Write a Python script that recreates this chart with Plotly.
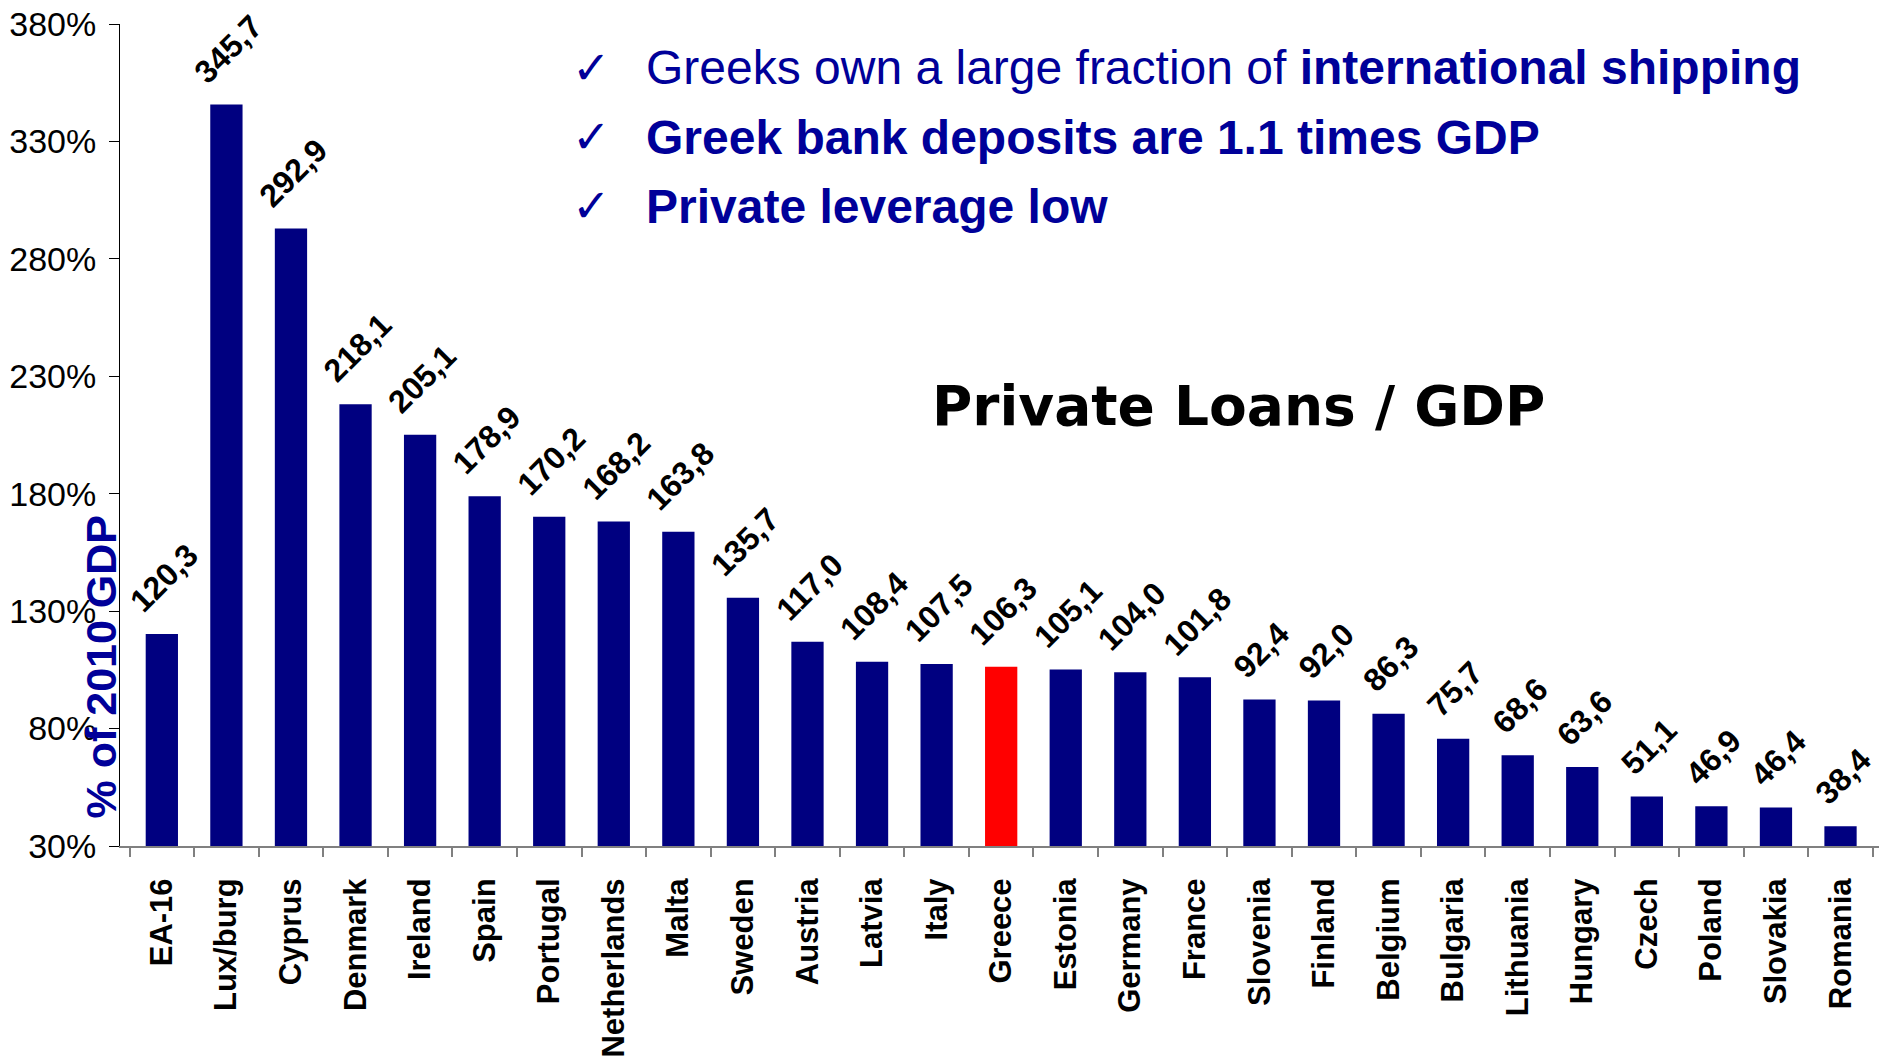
import plotly.graph_objects as go

countries = ["EA-16", "Lux/burg", "Cyprus", "Denmark", "Ireland", "Spain", "Portugal",
             "Netherlands", "Malta", "Sweden", "Austria", "Latvia", "Italy", "Greece",
             "Estonia", "Germany", "France", "Slovenia", "Finland", "Belgium", "Bulgaria",
             "Lithuania", "Hungary", "Czech", "Poland", "Slovakia", "Romania"]
loans_gdp = [120.3, 345.7, 292.9, 218.1, 205.1, 178.9, 170.2, 168.2, 163.8, 135.7, 117.0,
             108.4, 107.5, 106.3, 105.1, 104.0, 101.8, 92.4, 92.0, 86.3, 75.7, 68.6, 63.6,
             51.1, 46.9, 46.4, 38.4]
highlight = "Greece"
y_ticks = [30, 80, 130, 180, 230, 280, 330, 380]
y_tick_labels = ["30%", "80%", "130%", "180%", "230%", "280%", "330%", "380%"]
bullets = [
    "Greeks own a large fraction of <b>international shipping</b>",
    "<b>Greek bank deposits are 1.1 times GDP</b>",
    "<b>Private leverage low</b>",
]
chart_title = "Private Loans / GDP"
y_title = "% of 2010 GDP"

NAVY = "#000080"
TEXT_BLUE = "#000099"
colors = ["#FF0000" if c == highlight else NAVY for c in countries]

fig = go.Figure()
fig.add_trace(go.Bar(x=countries, y=loans_gdp, marker=dict(color=colors, line=dict(width=0)),
                     hoverinfo="x+y"))

annotations = []
for c, v in zip(countries, loans_gdp):
    annotations.append(dict(
        x=c, y=v, xref="x", yref="y", text=f"{v:.1f}".replace(".", ","),
        showarrow=False, textangle=-45, xanchor="center", yanchor="bottom",
        yshift=12, xshift=2,
        font=dict(family="Liberation Sans, Arial", size=32, color="black", weight="bold"),
    ))

bullet_y = [0.947, 0.862, 0.778]
for txt, yy in zip(bullets, bullet_y):
    annotations.append(dict(
        x=0.268, y=yy, xref="paper", yref="paper", text="\u2713", showarrow=False,
        xanchor="center", yanchor="middle",
        font=dict(family="DejaVu Sans", size=46, color=TEXT_BLUE),
    ))
    annotations.append(dict(
        x=0.298, y=yy, xref="paper", yref="paper", text=txt, showarrow=False,
        xanchor="left", yanchor="middle",
        font=dict(family="Liberation Sans, Arial", size=48, color=TEXT_BLUE),
    ))

annotations.append(dict(
    x=0.6355, y=0.5356, xref="paper", yref="paper", text=chart_title, showarrow=False,
    xanchor="center", yanchor="middle",
    font=dict(family="DejaVu Sans", size=55, color="black", weight="bold"),
))
annotations.append(dict(
    x=-0.011, y=0.218, xref="paper", yref="paper", text=y_title, showarrow=False,
    xanchor="center", yanchor="middle", textangle=-90,
    font=dict(family="Liberation Sans, Arial", size=43, color=TEXT_BLUE, weight="bold"),
))

fig.update_layout(
    width=1887, height=1058,
    margin=dict(l=112, r=15, t=16, b=220, pad=0, autoexpand=False),
    paper_bgcolor="white", plot_bgcolor="white",
    bargap=0.5, showlegend=False,
    annotations=annotations,
    font=dict(family="Liberation Sans, Arial", color="black"),
)
fig.update_xaxes(
    type="category", tickangle=-90, tickson="boundaries", automargin=False,
    ticks="outside", ticklen=9, tickcolor="#808080", tickwidth=2,
    showline=True, linecolor="#808080", linewidth=2,
    tickfont=dict(family="Liberation Sans, Arial", size=31, color="black", weight="bold"),
    ticklabelstandoff=18, showgrid=False, zeroline=False, ticklabeloverflow="allow",
)
fig.update_yaxes(
    range=[30, 380], tickvals=y_ticks, ticktext=y_tick_labels, automargin=False,
    ticks="outside", ticklen=10, tickcolor="black", tickwidth=1,
    showline=True, linecolor="black", linewidth=1,
    tickfont=dict(family="Liberation Sans, Arial", size=34, color="black"),
    ticklabelstandoff=6, showgrid=False, zeroline=False, ticklabeloverflow="allow",
)

fig.write_html("out.html")
